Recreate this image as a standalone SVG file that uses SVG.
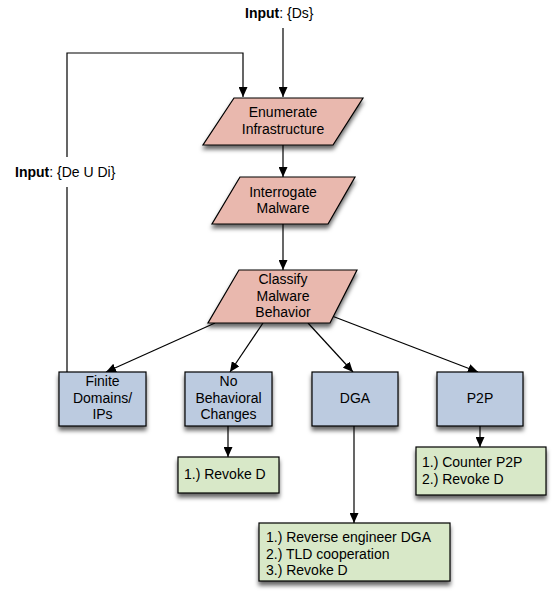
<svg xmlns="http://www.w3.org/2000/svg" width="552" height="592" viewBox="0 0 552 592">
<style>
text{font-family:"Liberation Sans",Arial,Helvetica,sans-serif;font-size:14px;fill:#000}
.c{text-anchor:middle}
.b{font-weight:bold}
.pink{fill:#e9b8ae;stroke:#000;stroke-width:1.2}
.blue{fill:#bccbe0;stroke:#000;stroke-width:1.2}
.green{fill:#d8e8c8;stroke:#000;stroke-width:1.2}
.ln{fill:none;stroke:#000;stroke-width:1.2}
</style>
<defs>
<marker id="ah" markerUnits="userSpaceOnUse" markerWidth="10" markerHeight="9" refX="10" refY="4.5" orient="auto">
<path d="M0,0 L10,4.5 L0,9 z" fill="#000"/>
</marker>
<filter id="sh" x="-20%" y="-20%" width="140%" height="160%">
<feDropShadow dx="0" dy="4" stdDeviation="2.2" flood-color="#000" flood-opacity="0.6"/>
</filter>
</defs>

<g id="labels">
<text x="245" y="18"><tspan class="b">Input</tspan>: {Ds}</text>
<text x="15" y="177"><tspan class="b">Input</tspan>: {De U Di}</text>
</g>

<g id="connectors">
<path class="ln" d="M283,28 V97" marker-end="url(#ah)"/>
<path class="ln" d="M67,372 V187 M67,157 V53 H243 V97" marker-end="url(#ah)"/>
<path class="ln" d="M283,145 V177" marker-end="url(#ah)"/>
<path class="ln" d="M283,224 V270" marker-end="url(#ah)"/>
<path class="ln" d="M215,323 L106,372" marker-end="url(#ah)"/>
<path class="ln" d="M263,323 L230,372" marker-end="url(#ah)"/>
<path class="ln" d="M308,323 L353,372" marker-end="url(#ah)"/>
<path class="ln" d="M332,316 L478,372" marker-end="url(#ah)"/>
<path class="ln" d="M228,426 V457" marker-end="url(#ah)"/>
<path class="ln" d="M480,426 V447" marker-end="url(#ah)"/>
<path class="ln" d="M354,426 V523" marker-end="url(#ah)"/>
</g>

<g id="enumerate">
<polygon class="pink" filter="url(#sh)" points="234,98 363,98 333,145 203,145"/>
<text class="c" x="283" y="117">Enumerate</text>
<text class="c" x="283" y="134">Infrastructure</text>
</g>

<g id="interrogate">
<polygon class="pink" filter="url(#sh)" points="240,177 355,177 328,224 212,224"/>
<text class="c" x="283" y="197">Interrogate</text>
<text class="c" x="283" y="213">Malware</text>
</g>

<g id="classify">
<polygon class="pink" filter="url(#sh)" points="239,270 357,270 330,323 208,323"/>
<text class="c" x="283" y="284">Classify</text>
<text class="c" x="283" y="300.5">Malware</text>
<text class="c" x="283" y="317">Behavior</text>
</g>

<g id="finite">
<rect class="blue" filter="url(#sh)" x="59" y="372" width="87" height="54"/>
<text class="c" x="102.5" y="386">Finite</text>
<text class="c" x="102.5" y="402.5">Domains/</text>
<text class="c" x="102.5" y="419">IPs</text>
</g>

<g id="nobehavioral">
<rect class="blue" filter="url(#sh)" x="185" y="372" width="87" height="54"/>
<text class="c" x="228.5" y="386">No</text>
<text class="c" x="228.5" y="402.5">Behavioral</text>
<text class="c" x="228.5" y="419">Changes</text>
</g>

<g id="dga">
<rect class="blue" filter="url(#sh)" x="312" y="372" width="86" height="54"/>
<text class="c" x="355" y="403">DGA</text>
</g>

<g id="p2p">
<rect class="blue" filter="url(#sh)" x="437" y="372" width="86" height="54"/>
<text class="c" x="480" y="403">P2P</text>
</g>

<g id="revoke">
<rect class="green" filter="url(#sh)" x="178" y="457" width="101" height="36"/>
<text x="184" y="479">1.) Revoke D</text>
</g>

<g id="p2pactions">
<rect class="green" filter="url(#sh)" x="416" y="447" width="130" height="48"/>
<text x="422" y="467">1.) Counter P2P</text>
<text x="422" y="483.5">2.) Revoke D</text>
</g>

<g id="dgaactions">
<rect class="green" filter="url(#sh)" x="259" y="523" width="191" height="58"/>
<text x="266" y="542">1.) Reverse engineer DGA</text>
<text x="266" y="558.5">2.) TLD cooperation</text>
<text x="266" y="575">3.) Revoke D</text>
</g>
</svg>
